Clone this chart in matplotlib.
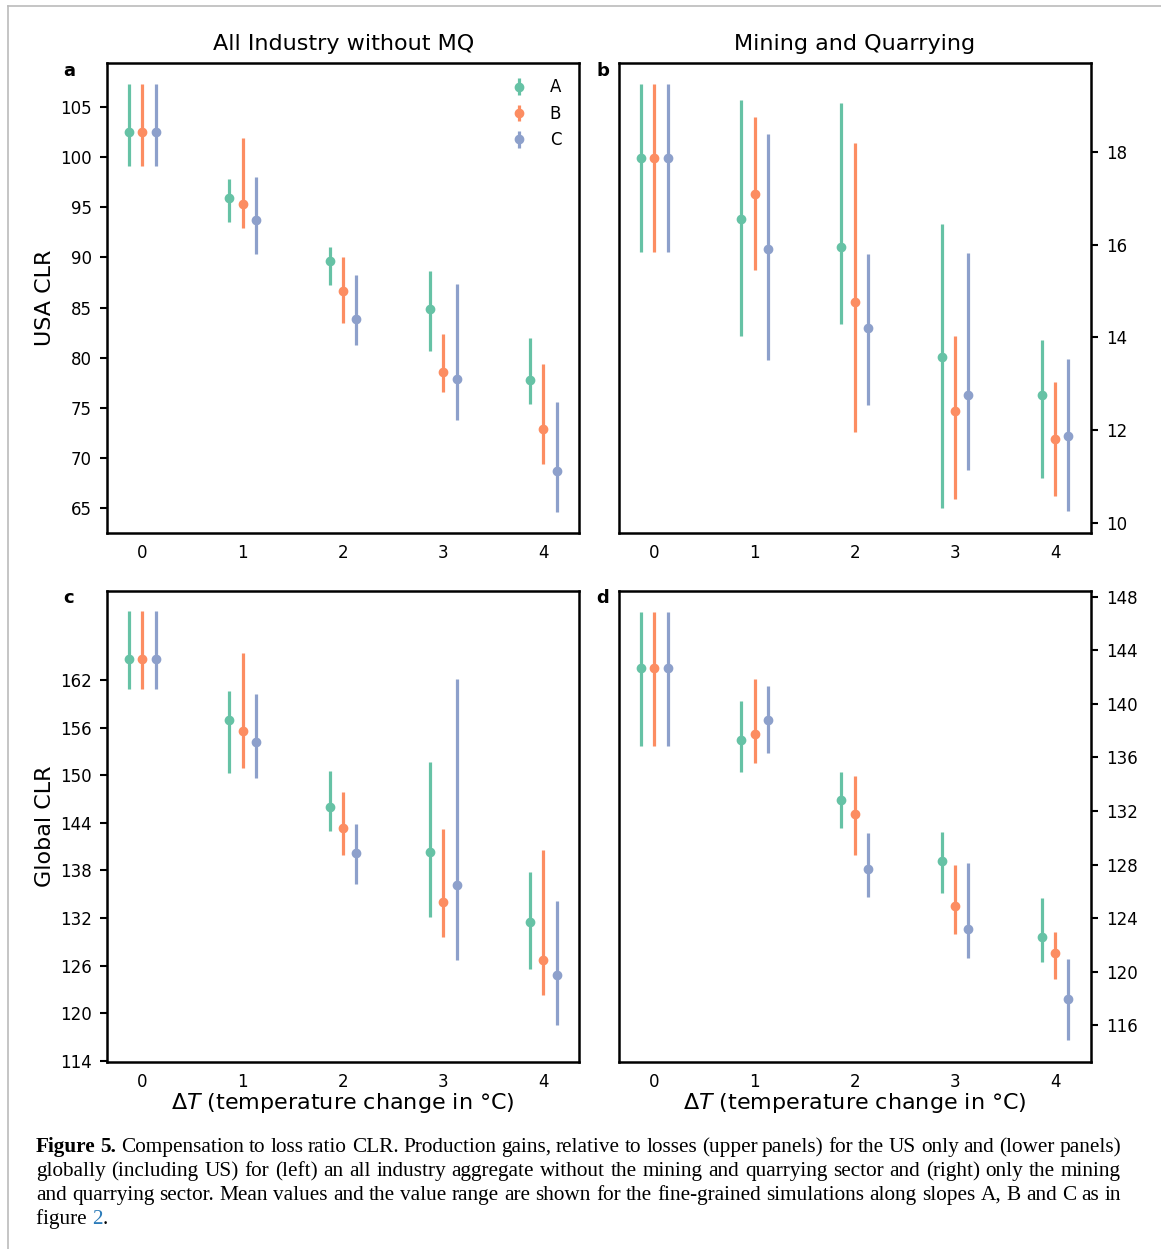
import numpy as np
import matplotlib
matplotlib.use('Agg')
import matplotlib.pyplot as plt
from matplotlib.lines import Line2D

# temperature change steps and slopes
dT = [0, 1, 2, 3, 4]
slopes = ['A', 'B', 'C']
colors = ['#66c2a5', '#fc8d62', '#8da0cb']

# panel a: USA CLR, all industry without MQ (mean, low, high) per slope
a_mean = [[102.5, 95.9, 89.6, 84.9, 77.75],
          [102.5, 95.3, 86.6, 78.6, 72.9],
          [102.5, 93.7, 83.9, 77.9, 68.7]]
a_lo = [[99.1, 93.5, 87.2, 80.7, 75.4],
        [99.1, 92.9, 83.5, 76.6, 69.4],
        [99.1, 90.3, 81.3, 73.8, 64.6]]
a_hi = [[107.3, 97.8, 91.0, 88.6, 82.0],
        [107.3, 101.9, 90.0, 82.4, 79.4],
        [107.3, 98.0, 88.2, 87.3, 75.6]]

# panel b: USA CLR, mining and quarrying
b_mean = [[17.86, 16.56, 15.94, 13.57, 12.75],
          [17.86, 17.10, 14.77, 12.41, 11.81],
          [17.86, 15.90, 14.20, 12.77, 11.88]]
b_lo = [[15.84, 14.03, 14.28, 10.32, 10.97],
        [15.84, 15.45, 11.96, 10.51, 10.58],
        [15.84, 13.51, 12.54, 11.14, 10.25]]
b_hi = [[19.47, 19.11, 19.06, 16.45, 13.95],
        [19.47, 18.76, 18.20, 14.04, 13.05],
        [19.47, 18.39, 15.79, 15.81, 13.54]]

# panel c: Global CLR, all industry without MQ
c_mean = [[164.7, 156.96, 146.04, 140.30, 131.52],
          [164.7, 155.54, 143.32, 134.08, 126.70],
          [164.7, 154.15, 140.17, 136.18, 124.88]]
c_lo = [[160.87, 150.29, 142.98, 132.15, 125.60],
        [160.87, 150.96, 139.96, 129.63, 122.33],
        [160.87, 149.70, 136.31, 126.74, 118.55]]
c_hi = [[170.69, 160.61, 150.54, 151.67, 137.82],
        [170.69, 165.40, 147.89, 143.23, 140.59],
        [170.69, 160.24, 143.86, 162.13, 134.17]]

# panel d: Global CLR, mining and quarrying
d_mean = [[142.70, 137.28, 132.81, 128.28, 122.58],
          [142.70, 137.78, 131.76, 124.94, 121.36],
          [142.70, 138.82, 127.66, 123.22, 117.96]]
d_lo = [[136.88, 134.94, 130.76, 125.91, 120.69],
        [136.88, 135.61, 128.75, 122.78, 119.49],
        [136.88, 136.36, 125.61, 121.06, 114.89]]
d_hi = [[146.84, 140.19, 134.90, 130.44, 125.51],
        [146.84, 141.84, 134.62, 127.96, 122.98],
        [146.84, 141.34, 130.34, 128.13, 120.94]]

titles = ['All Industry without MQ', 'Mining and Quarrying']
caption_lines = [
    'Figure 5. Compensation to loss ratio CLR. Production gains, relative to losses (upper panels) for the US only and (lower panels)',
    'globally (including US) for (left) an all industry aggregate without the mining and quarrying sector and (right) only the mining',
    'and quarrying sector. Mean values and the value range are shown for the fine-grained simulations along slopes A, B and C as in',
]

W, H = 1161, 1249
fig = plt.figure(figsize=(W/100, H/100), dpi=100)

def px(x0, y0, x1, y1):
    return [x0/W, 1-y1/H, (x1-x0)/W, (y1-y0)/H]

ax_a = fig.add_axes(px(107.3, 62.7, 579, 533.3))
ax_b = fig.add_axes(px(619.3, 62.7, 1090.6, 533.3))
ax_c = fig.add_axes(px(107.3, 590.7, 579, 1061.7))
ax_d = fig.add_axes(px(619.3, 590.7, 1090.6, 1061.7))

offs = [-0.4/3, 0.0, 0.4/3]

def panel(ax, mean, lo, hi, ylim, yticks, right=False, legend=False):
    for i in range(3):
        x = np.array(dT) + offs[i]
        m = np.array(mean[i]); l = np.array(lo[i]); h = np.array(hi[i])
        ax.errorbar(x, m, yerr=[m-l, h-m], fmt='o', color=colors[i], ms=6,
                    elinewidth=2.3, capsize=0, label=slopes[i], zorder=3)
    ax.set_xlim(-0.35, 4.355)
    ax.set_ylim(ylim)
    ax.set_xticks(dT)
    ax.set_yticks(yticks)
    ax.tick_params(axis='x', length=0, pad=8, labelsize=12)
    ax.tick_params(axis='y', length=5, width=1.5, pad=6, labelsize=12)
    for s in ax.spines.values():
        s.set_linewidth(1.8)
    if right:
        ax.yaxis.tick_right()
    if legend:
        ax.legend(loc='upper right', bbox_to_anchor=(1-6/472, 1-4/470), frameon=False,
                  fontsize=12, handlelength=1.2, handletextpad=1.25, labelspacing=0.5,
                  borderaxespad=0.3)

panel(ax_a, a_mean, a_lo, a_hi, (62.5, 109.4), np.arange(65, 106, 5), legend=True)
panel(ax_b, b_mean, b_lo, b_hi, (9.78, 19.92), np.arange(10, 19, 2), right=True)
panel(ax_c, c_mean, c_lo, c_hi, (113.9, 173.25), np.arange(114, 163, 6))
panel(ax_d, d_mean, d_lo, d_hi, (113.28, 148.45), np.arange(116, 149, 4), right=True)

ax_a.set_title(titles[0], fontsize=16, pad=9)
ax_b.set_title(titles[1], fontsize=16, pad=9)
ax_a.set_ylabel('USA CLR', fontsize=16, labelpad=4)
ax_c.set_ylabel('Global CLR', fontsize=16, labelpad=4)
ax_c.set_xlabel(r'$\Delta T$ (temperature change in °C)', fontsize=16, labelpad=0)
ax_d.set_xlabel(r'$\Delta T$ (temperature change in °C)', fontsize=16, labelpad=0)

for lab, (x, y) in zip('abcd', [(69, 71), (603, 71), (69, 598), (603, 598)]):
    fig.text(x/W, 1-y/H, lab, fontsize=13, fontweight='bold', ha='center', va='center')

# page frame
fig.add_artist(Line2D([8/W, 1], [1-6/H, 1-6/H], color='#bbbbbb', lw=1.2))
fig.add_artist(Line2D([8/W, 8/W], [0, 1-6/H], color='#bbbbbb', lw=1.2))

# caption, justified between x0 and x1, placed on baselines
serif = 'Liberation Serif'
cfs = 15.3
r = fig.canvas.get_renderer()
x0, x1 = 36, 1121
base = 1152
for k, line in enumerate(caption_lines):
    words = line.split(' ')
    y = 1 - (base + 24*k)/H
    texts = []
    for j, w in enumerate(words):
        bold = (k == 0 and j < 2)
        texts.append(fig.text(0, y, w, fontsize=cfs, family=serif, va='baseline',
                              fontweight='bold' if bold else 'normal'))
    widths = [t.get_window_extent(renderer=r).width for t in texts]
    gap = (x1 - x0 - sum(widths)) / (len(words) - 1)
    x = x0
    for t, w in zip(texts, widths):
        t.set_x(x/W)
        x += w + gap

y = 1 - (base + 72)/H
t = fig.text(x0/W, y, 'figure ', fontsize=cfs, family=serif, va='baseline')
bb = t.get_window_extent(renderer=r)
t2 = fig.text(bb.x1/W, y, '2', fontsize=cfs, family=serif, va='baseline', color='#2b7bb9')
bb = t2.get_window_extent(renderer=r)
fig.text(bb.x1/W, y, '.', fontsize=cfs, family=serif, va='baseline')

fig.savefig('out.png', dpi=100)
